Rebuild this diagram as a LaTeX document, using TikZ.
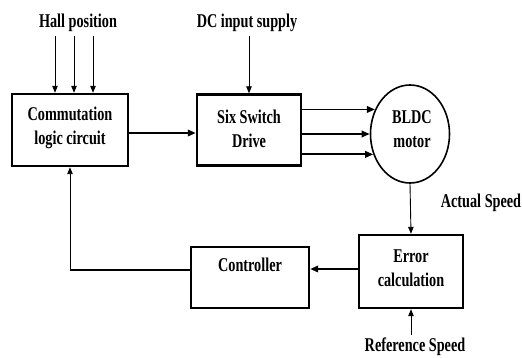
\documentclass[tikz,border=0pt]{standalone}
\usepackage{fontspec}
\setmainfont{Liberation Serif}[FakeStretch=0.73]
\usetikzlibrary{shapes.geometric,arrows.meta}

\tikzset{
  blk/.style={draw, line width=2.4pt, rectangle, inner sep=0pt, align=center},
  txt/.style={font=\fontsize{19.5pt}{24pt}\selectfont\bfseries, align=center, inner sep=0pt},
  thinarr/.style={line width=0.9pt, -{Triangle[length=7pt,width=5.5pt]}},
  thickarr/.style={line width=1.8pt, -{Triangle[length=8pt,width=6.5pt]}},
  thickln/.style={line width=1.8pt},
  thinln/.style={line width=0.9pt}
}

\begin{document}
\begin{tikzpicture}[x=1pt,y=-1pt]
\useasboundingbox (0,0) rectangle (522,358);

% blocks
\node[blk, minimum width=116pt, minimum height=72pt] (cl) at (70,130) {};
\node[txt] at (70,128) {Commutation\\logic circuit};

\node[blk, minimum width=104pt, minimum height=71pt] (sw) at (249,130) {};
\node[txt] at (249,129) {Six Switch\\Drive};

\node[draw, ellipse, line width=1.6pt, minimum width=79pt, minimum height=98pt, inner sep=0pt] (m) at (410,134) {};
\node[txt] at (412,129) {BLDC\\motor};

\node[blk, minimum width=104pt, minimum height=73pt] (err) at (411,271.5) {};
\node[txt] at (411,268) {Error\\calculation};

\node[blk, minimum width=118pt, minimum height=61pt] (ctl) at (250,277.5) {};
\node[txt] at (250,265) {Controller};

% external signal labels
\node[txt] (hall) at (78,23) {Hall position};
\node[txt] (dc) at (247,23) {DC input supply};
\node[txt] (act) at (481,203) {Actual Speed};
\node[txt] (ref) at (415,347) {Reference Speed};

% inputs
\foreach \xx in {55,74,93}
  \draw[thinarr] (\xx,0 |- hall.south) ++(0,4) -- (\xx,0 |- cl.north);
\draw[thinarr] ([yshift=-4pt]dc.south -| sw.north) -- (sw.north);

% forward path
\draw[thickarr] ([yshift=-3pt]cl.east) -- ([yshift=-3pt]cl.east -| sw.west);
\draw[thickarr] (m.145 -| sw.east) -- (m.145);
\draw[thickarr] (m.180 -| sw.east) -- (m.180);
\draw[thickarr] (m.209 -| sw.east) -- (m.209);

% speed measurement and reference
\draw[thinarr] (m.south) -- (err.north);
\draw[thinarr] ([yshift=3pt]ref.north -| err.south) -- (err.south);

% feedback path
\draw[thickarr] ([yshift=2.5pt]err.west) -- ([yshift=2.5pt]err.west -| ctl.east);
\coordinate (fb) at ([yshift=7.5pt]ctl.west -| cl.south);
\draw[thickln] ([yshift=7.5pt]ctl.west) -- (fb);
\draw[thinarr] (fb) -- (cl.south);
\end{tikzpicture}
\end{document}
